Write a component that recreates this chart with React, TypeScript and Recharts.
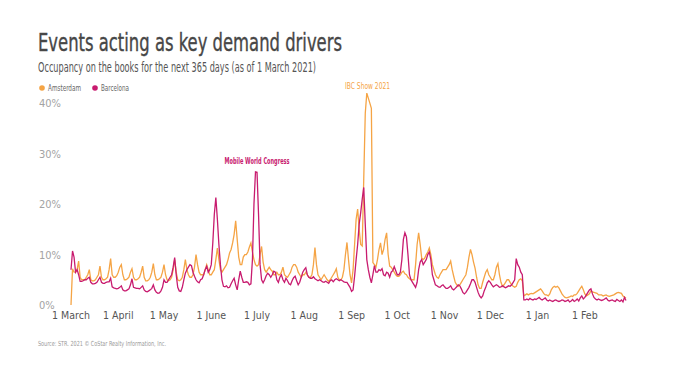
import React from 'react'
import { LineChart, Line, XAxis, YAxis, ReferenceDot } from 'recharts'

const FONT = "'Liberation Sans Narrow', 'DejaVu Sans Condensed', 'Liberation Sans', sans-serif"
const AMS_COLOR = '#f5a445'
const BCN_COLOR = '#c81b6f'

// day 0 = 1 March 2021, one value per day for 365 days
const monthTicks = [0, 31, 61, 92, 122, 153, 184, 214, 245, 275, 306, 337]
const monthLabels = ['1 March', '1 April', '1 May', '1 June', '1 July', '1 Aug', '1 Sep', '1 Oct', '1 Nov', '1 Dec', '1 Jan', '1 Feb']
const yTicks = [0, 10, 20, 30, 40]

// occupancy on the books, %
const amsterdam = [
  // Mar
  0, 7.2, 6.5, 6.5, 7, 8.7, 5.5, 5, 5, 5, 5.5, 6, 7, 5, 4.8, 4.8, 5, 5.5, 6, 7.7, 5.5, 5, 5, 5.2, 5.5, 7, 9.2, 6, 5.5, 5.5, 5.8,
  // Apr
  6.5, 7.5, 8, 6, 5, 5, 5.2, 5.5, 6.5, 7.2, 5.5, 5, 5, 5.2, 5.5, 6.5, 7.7, 5.5, 4.8, 4.8, 5, 5.5, 6.5, 8.2, 6, 5, 5, 5.2, 5.5, 6.5,
  // May
  8, 6, 5, 4.8, 5, 5.5, 7, 9, 6.5, 5, 4.8, 5, 5.5, 7, 9, 7, 6, 5.5, 5.5, 6, 7.5, 10, 8, 6.5, 6, 6, 6, 7, 8, 7, 6,
  // Jun
  6, 6.5, 7, 9, 11.3, 9, 7, 6.5, 7, 7.5, 8, 9, 10.3, 11, 12.3, 14, 16.7, 13, 9.5, 8, 8, 9.5, 10, 10, 10.5, 11.5, 12.3, 10.5, 9, 8,
  // Jul
  7.7, 8, 10, 11.6, 8.5, 7, 6.5, 7, 7.5, 7, 6.7, 6, 6, 6.5, 6, 6, 6.5, 7.5, 6, 5.7, 5.5, 6, 6.5, 7.5, 8, 8, 7.5, 6.5, 6, 5.5, 6,
  // Aug
  6, 6.5, 6, 5.5, 5.5, 6, 8, 11.4, 8, 6, 5.5, 5, 5.5, 6, 5.5, 5, 4.7, 5, 5.5, 6, 6.5, 7.2, 5.5, 5, 5, 5.5, 7, 10, 12.4, 9, 6,
  // Sep
  4.4, 7, 12, 17, 19, 15, 12, 11.7, 25, 38, 42, 41, 40, 39, 8.4, 8, 7.5, 9, 11, 12.3, 10, 11, 13, 14.3, 10, 7.7, 7.5, 7, 6.5, 6,
  // Oct
  5.7, 5.7, 6, 6.5, 6.7, 6.2, 6, 5.5, 5.2, 5, 5, 5, 8, 12, 14.3, 12, 9.3, 9, 9.3, 10, 10.5, 11.3, 10, 8, 7, 6, 5.5, 5.3, 6, 6.5, 7,
  // Nov
  7, 7, 7.5, 8, 8.7, 7, 5.7, 4.5, 4, 3.7, 4, 4.5, 5, 5.5, 6, 7.5, 9.5, 11, 10, 8.5, 7.3, 5.5, 4, 3.3, 3.3, 4.5, 5.5, 6.5, 7, 6,
  // Dec
  5.5, 5, 5, 6, 7.5, 8.2, 6, 4.5, 3.7, 4, 4.5, 5, 5, 4.5, 4, 3.7, 3.5, 3.7, 4.5, 5, 5.2, 4.8, 1.8, 2, 2.2, 2, 2.2, 2.3, 2.2, 2.4, 2.6,
  // Jan
  2.8, 3, 3.2, 2.8, 2.3, 2, 2, 1.8, 2.2, 3, 3.5, 3.7, 3.5, 3.7, 3.4, 2.8, 2.2, 1.8, 1.5, 1.4, 1.5, 1.6, 1.8, 1.7, 2, 2, 2.3, 2.8, 3.3, 3.7, 3,
  // Feb
  2.2, 1.8, 2, 2.2, 2.8, 2.6, 2.5, 2.4, 2.3, 2, 2, 2, 1.8, 1.9, 2, 1.8, 1.7, 1.8, 1.9, 2, 2.2, 2.4, 2.5, 2.4, 2.3, 1.8, 1.6, 1.4,
]

const barcelona = [
  // Mar
  7, 10.7, 9.5, 6.5, 7, 6, 4.7, 4.7, 4.8, 5, 5, 5.3, 5.5, 4.5, 4.2, 4.2, 4.3, 4.5, 5, 5.5, 4.5, 4.3, 4.3, 4.5, 4.6, 4.6, 5.3, 3.6, 3.4, 3.3, 3.2,
  // Apr
  3.3, 3.5, 3.8, 3, 2.8, 2.8, 3, 3.2, 4, 5.2, 3.5, 3.4, 3.3, 3.3, 3.2, 3.5, 3.8, 3, 2.7, 2.6, 2.8, 3, 3.3, 4, 3, 2.5, 2.3, 2.4, 2.8, 3.5,
  // May
  5, 4.5, 4.5, 5, 5.5, 6, 7.5, 9.4, 6, 3.5, 2.8, 2.7, 3.5, 5, 6.3, 7, 7.5, 8, 7.8, 6.5, 5.7, 5, 4.6, 4.4, 5, 5.2, 6, 7, 7.7, 6.5, 7,
  // Jun
  8, 12.3, 18, 21.3, 17, 12, 8, 5, 3.7, 3.6, 3.8, 3.4, 3.5, 4.2, 4.8, 5.3, 4, 3, 5, 6.7, 5.5, 4.5, 4.5, 4.6, 4.5, 4, 4.2, 9, 20, 26.4,
  // Jul
  26.3, 18, 8, 5, 4.4, 5, 5.8, 6.3, 6, 5.5, 6, 6.7, 6.5, 5, 4.5, 5.5, 6, 5, 4.5, 5.3, 4.8, 4.2, 4, 4.8, 5.4, 5.7, 4.8, 4, 4.5, 5.5, 6.5,
  // Aug
  7, 7.4, 6, 5.5, 5.3, 5.3, 5.6, 5.2, 5, 4.8, 5, 4.8, 4.6, 4.5, 4.7, 4.5, 4.3, 4.8, 5, 4.6, 5, 5.2, 5, 4.8, 5, 4.8, 4.6, 4.5, 4.5, 4, 3.5,
  // Sep
  2.7, 3, 5.7, 9, 12, 16, 18.3, 21, 23.3, 16, 9, 7, 5.5, 4.4, 6, 7.8, 6.5, 6.5, 7, 6.8, 7.2, 6, 5.8, 6.5, 6.3, 5.5, 6.5, 6.8, 7.6, 6.8,
  // Oct
  6, 6, 6.5, 9, 13, 14.3, 13.5, 10, 6, 5, 4.5, 4, 3.5, 4.5, 7, 8.5, 9, 8, 8.5, 9, 10, 10.5, 9, 6, 5, 4, 3.8, 3.6, 3.5, 3.8, 4,
  // Nov
  3.6, 3.3, 3.3, 3.5, 3.8, 3.2, 3, 3.3, 3.6, 4, 3.8, 3.2, 2.5, 2.2, 2.5, 3, 3.5, 4.2, 5, 5, 4.5, 3.5, 2.5, 1.8, 1.4, 1.8, 2.8, 3.5, 4.4, 4.8,
  // Dec
  4.5, 4, 3.6, 3.8, 4, 3.8, 3.5, 3.6, 3.8, 3.6, 3.4, 3.6, 3.8, 3.7, 4, 4.5, 5, 9.2, 8, 7.5, 6.5, 6, 1, 1, 1.2, 1, 1.3, 1.1, 1, 1.2, 1.1,
  // Jan
  1.3, 1.5, 1.2, 1, 1.2, 1.4, 1, 0.8, 1, 0.8, 0.7, 0.9, 1, 0.8, 0.7, 0.8, 1, 0.9, 0.7, 0.8, 1, 0.6, 0.8, 1.1, 0.7, 0.9, 1.2, 0.8, 1.4, 1.8, 1.2,
  // Feb
  1.5, 2, 2.5, 3, 3.2, 2.2, 1.5, 1.2, 1, 1.2, 1, 0.9, 1, 1.2, 1.4, 1, 0.8, 0.9, 1, 0.8, 0.7, 1.1, 0.9, 0.7, 1, 0.6, 1.5, 0.9,
]

// event labels, anchored in data units (day, %)
const annotations = [
  { label: 'Mobile World Congress', day: 122, value: 28, color: BCN_COLOR, bold: true, width: 65 },
  { label: 'IBC Show 2021', day: 194.5, value: 42.8, color: AMS_COLOR, bold: false, width: 45 },
]

const data = amsterdam.map((a, i) => ({ day: i, amsterdam: a, barcelona: barcelona[i] }))

const XTick = ({ x, y, payload }: any) => (
  <text x={x} y={y + 14} textAnchor="middle" fontSize={10.5} fill="#555" fontFamily={FONT}>
    {monthLabels[monthTicks.indexOf(payload.value)]}
  </text>
)

const YTick = ({ y, payload }: any) => (
  <text x={39} y={y + 4} textAnchor="start" fontSize={11} fill="#a3a3a3" fontFamily={FONT}>
    {payload.value}%
  </text>
)

export default function App() {
  return (
    <div style={{ position: 'absolute', left: 0, top: 0, width: 700, height: 366, background: '#fff', fontFamily: FONT }}>
      <LineChart width={700} height={366} data={data} margin={{ top: 83, right: 74, bottom: 41, left: 36 }}>
        <XAxis
          dataKey="day"
          type="number"
          domain={[0, 364]}
          ticks={monthTicks}
          height={20}
          axisLine={false}
          tickLine={false}
          tickSize={0}
          tickMargin={0}
          tick={<XTick />}
        />
        <YAxis
          domain={[0, 44]}
          ticks={yTicks}
          width={35}
          axisLine={false}
          tickLine={false}
          tick={<YTick />}
        />
        <Line
          type="linear"
          dataKey="amsterdam"
          stroke={AMS_COLOR}
          strokeWidth={1.3}
          dot={false}
          isAnimationActive={false}
        />
        <Line
          type="linear"
          dataKey="barcelona"
          stroke={BCN_COLOR}
          strokeWidth={1.3}
          dot={false}
          isAnimationActive={false}
        />
        {annotations.map((a) => (
          <ReferenceDot
            key={a.label}
            x={a.day}
            y={a.value}
            r={0}
            ifOverflow="visible"
            shape={(p: any) => (
              <text
                x={p.cx}
                y={p.cy}
                textAnchor="middle"
                fontSize={8}
                fontWeight={a.bold ? 'bold' : 'normal'}
                fill={a.color}
                fontFamily={FONT}
                textLength={a.width}
                lengthAdjust="spacingAndGlyphs"
              >
                {a.label}
              </text>
            )}
          />
        ))}
      </LineChart>

      <svg width={700} height={366} style={{ position: 'absolute', left: 0, top: 0, pointerEvents: 'none' }} fontFamily={FONT}>
        <text x={38} y={51} fontSize={24} fill="#474747" stroke="#474747" strokeWidth={0.35} textLength={304} lengthAdjust="spacingAndGlyphs">
          Events acting as key demand drivers
        </text>
        <text x={38} y={72} fontSize={14} fill="#555" textLength={278} lengthAdjust="spacingAndGlyphs">
          Occupancy on the books for the next 365 days (as of 1 March 2021)
        </text>
        <circle cx={42} cy={88} r={2.8} fill={AMS_COLOR} />
        <text x={48} y={91} fontSize={8.5} fill="#666" textLength={33} lengthAdjust="spacingAndGlyphs">Amsterdam</text>
        <circle cx={95} cy={88} r={2.8} fill={BCN_COLOR} />
        <text x={101} y={91} fontSize={8.5} fill="#666" textLength={28} lengthAdjust="spacingAndGlyphs">Barcelona</text>
        <text x={38} y={346} fontSize={7} fill="#9a9a9a" textLength={128} lengthAdjust="spacingAndGlyphs">
          Source: STR. 2021 © CoStar Realty Information, Inc.
        </text>
      </svg>
    </div>
  )
}
